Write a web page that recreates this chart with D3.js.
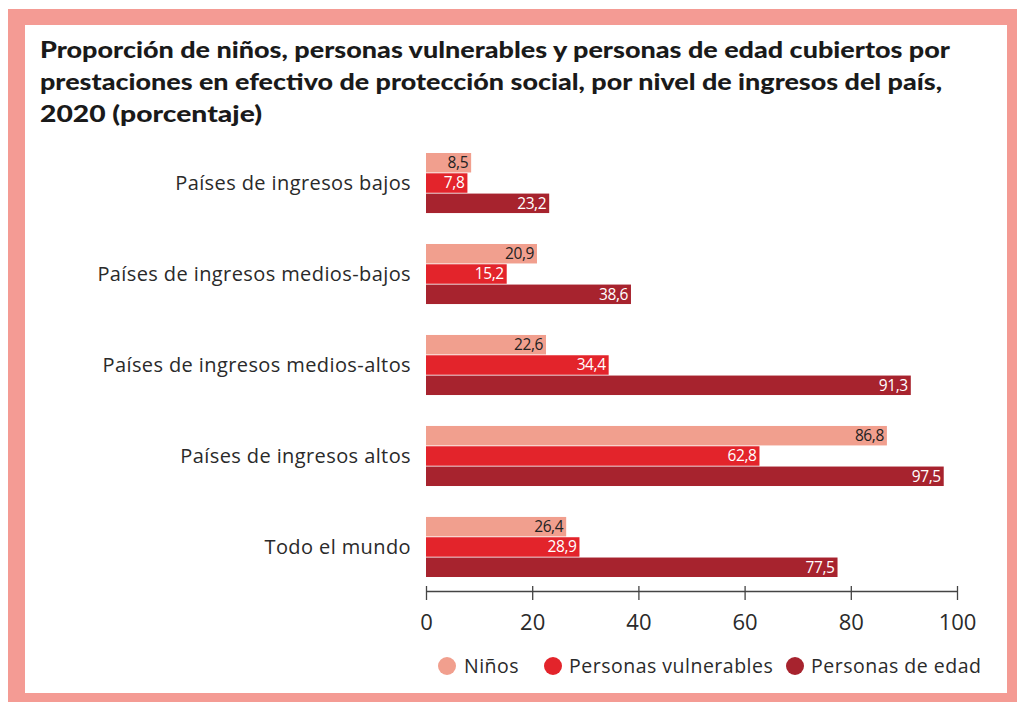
<!DOCTYPE html>
<html>
<head>
<meta charset="utf-8">
<script src="https://cdn.jsdelivr.net/npm/d3@7"></script>
<style>
  body { margin: 0; background: #fff; }
  svg { display: block; }
</style>
</head>
<body>
<svg></svg>
<script>
// coverage of social protection cash benefits, by income level

var categories = ['Países de ingresos bajos', 'Países de ingresos medios-bajos',
  'Países de ingresos medios-altos', 'Países de ingresos altos', 'Todo el mundo'];
var seriesNames = ['Niños', 'Personas vulnerables', 'Personas de edad'];
var ninos = [8.5, 20.9, 22.6, 86.8, 26.4];
var vulnerables = [7.8, 15.2, 34.4, 62.8, 28.9];
var edad = [23.2, 38.6, 91.3, 97.5, 77.5];
var xTicks = [0, 20, 40, 60, 80, 100];
var titleLines = [
  'Proporción de niños, personas vulnerables y personas de edad cubiertos por',
  'prestaciones en efectivo de protección social, por nivel de ingresos del país,',
  '2020 (porcentaje)'
];

document.addEventListener('DOMContentLoaded', function() {

  var width = 1017;
  var height = 702;
  var svg = d3.select('svg')
                .attr('width', width)
                .attr('height', height);

  var colors = ['#f19f8e', '#e3242b', '#a7232e'];
  var labelColors = ['#222', '#fff', '#fff'];
  var values = [ninos, vulnerables, edad];

  // frame
  svg.append('rect')
      .attr('x', 8).attr('y', 9)
      .attr('width', width - 8).attr('height', height - 9)
      .attr('fill', '#f49b94');
  svg.append('rect')
      .attr('x', 25).attr('y', 25)
      .attr('width', 982).attr('height', 668)
      .attr('fill', '#fff');

  // title
  svg.append('g').selectAll('text')
    .data(titleLines)
    .enter()
    .append('text')
      .attr('x', 40)
      .attr('y', (d, i) => 58 + i * 32)
      .attr('font-family', 'Lato, "Open Sans", sans-serif')
      .attr('font-weight', 900)
      .attr('font-size', 22)
      .attr('fill', '#1a1a1a')
      .attr('textLength', (d, i) => [910, 902, 222][i])
      .attr('lengthAdjust', 'spacingAndGlyphs')
      .text(d => d);

  var x = d3.scaleLinear()
            .domain([0, 100])
            .range([426, 957]);

  var y0 = d3.scaleBand()
             .domain(categories)
             .range([153, 577])
             .paddingInner(0.34)
             .paddingOuter(0);

  var y1 = d3.scaleBand()
             .domain(seriesNames)
             .range([0, y0.bandwidth()])
             .paddingInner(0.04);

  var locale = d3.formatLocale({ decimal: ',', thousands: '.', grouping: [3], currency: ['', ''] });
  var fmt = locale.format('.1f');

  var rows = [];
  categories.forEach(function(c, i) {
    seriesNames.forEach(function(s, j) {
      rows.push({ cat: c, series: s, idx: j, value: values[j][i] });
    });
  });

  var bars = svg.append('g');
  bars.selectAll('rect')
    .data(rows)
    .enter()
    .append('rect')
      .attr('x', x(0))
      .attr('y', d => y0(d.cat) + y1(d.series))
      .attr('width', d => x(d.value) - x(0))
      .attr('height', y1.bandwidth())
      .attr('fill', d => colors[d.idx]);

  bars.selectAll('text')
    .data(rows)
    .enter()
    .append('text')
      .attr('x', d => x(d.value) - 3)
      .attr('y', d => y0(d.cat) + y1(d.series) + y1.bandwidth() / 2)
      .attr('dy', '0.35em')
      .attr('text-anchor', 'end')
      .attr('font-family', '"Open Sans", sans-serif')
      .attr('font-size', 15.5)
      .attr('letter-spacing', -0.4)
      .attr('fill', d => labelColors[d.idx])
      .text(d => fmt(d.value));

  // category labels
  svg.append('g').selectAll('text')
    .data(categories)
    .enter()
    .append('text')
      .attr('x', 411)
      .attr('y', d => y0(d) + y0.bandwidth() / 2)
      .attr('dy', '0.36em')
      .attr('text-anchor', 'end')
      .attr('font-family', '"Open Sans", sans-serif')
      .attr('font-size', 20)
      .attr('letter-spacing', 0.4)
      .attr('fill', '#2a2a2a')
      .text(d => d);

  // axis
  var axis = svg.append('g')
      .attr('transform', 'translate(0, 591)')
      .call(d3.axisBottom(x).tickValues(xTicks).tickSizeOuter(0).tickFormat(d3.format('d')));
  axis.select('.domain').attr('stroke', '#444').attr('stroke-width', 1.3);
  axis.selectAll('.tick line')
      .attr('y1', -5).attr('y2', 9)
      .attr('stroke', '#444').attr('stroke-width', 1.3);
  axis.selectAll('.tick text')
      .attr('y', 23)
      .attr('font-family', '"Open Sans", sans-serif')
      .attr('font-size', 22)
      .attr('fill', '#2a2a2a');

  // legend
  var legendItems = [
    { name: seriesNames[0], cx: 447, tx: 464 },
    { name: seriesNames[1], cx: 553, tx: 569 },
    { name: seriesNames[2], cx: 795, tx: 811 }
  ];
  var legend = svg.append('g').selectAll('g')
    .data(legendItems)
    .enter()
    .append('g');
  legend.append('circle')
      .attr('cx', d => d.cx)
      .attr('cy', 666)
      .attr('r', 9)
      .attr('fill', (d, i) => colors[i]);
  legend.append('text')
      .attr('x', d => d.tx)
      .attr('y', 666)
      .attr('dy', '0.36em')
      .attr('font-family', '"Open Sans", sans-serif')
      .attr('font-size', 19.5)
      .attr('letter-spacing', 0.5)
      .attr('fill', '#2a2a2a')
      .text(d => d.name);

});
</script>
</body>
</html>
